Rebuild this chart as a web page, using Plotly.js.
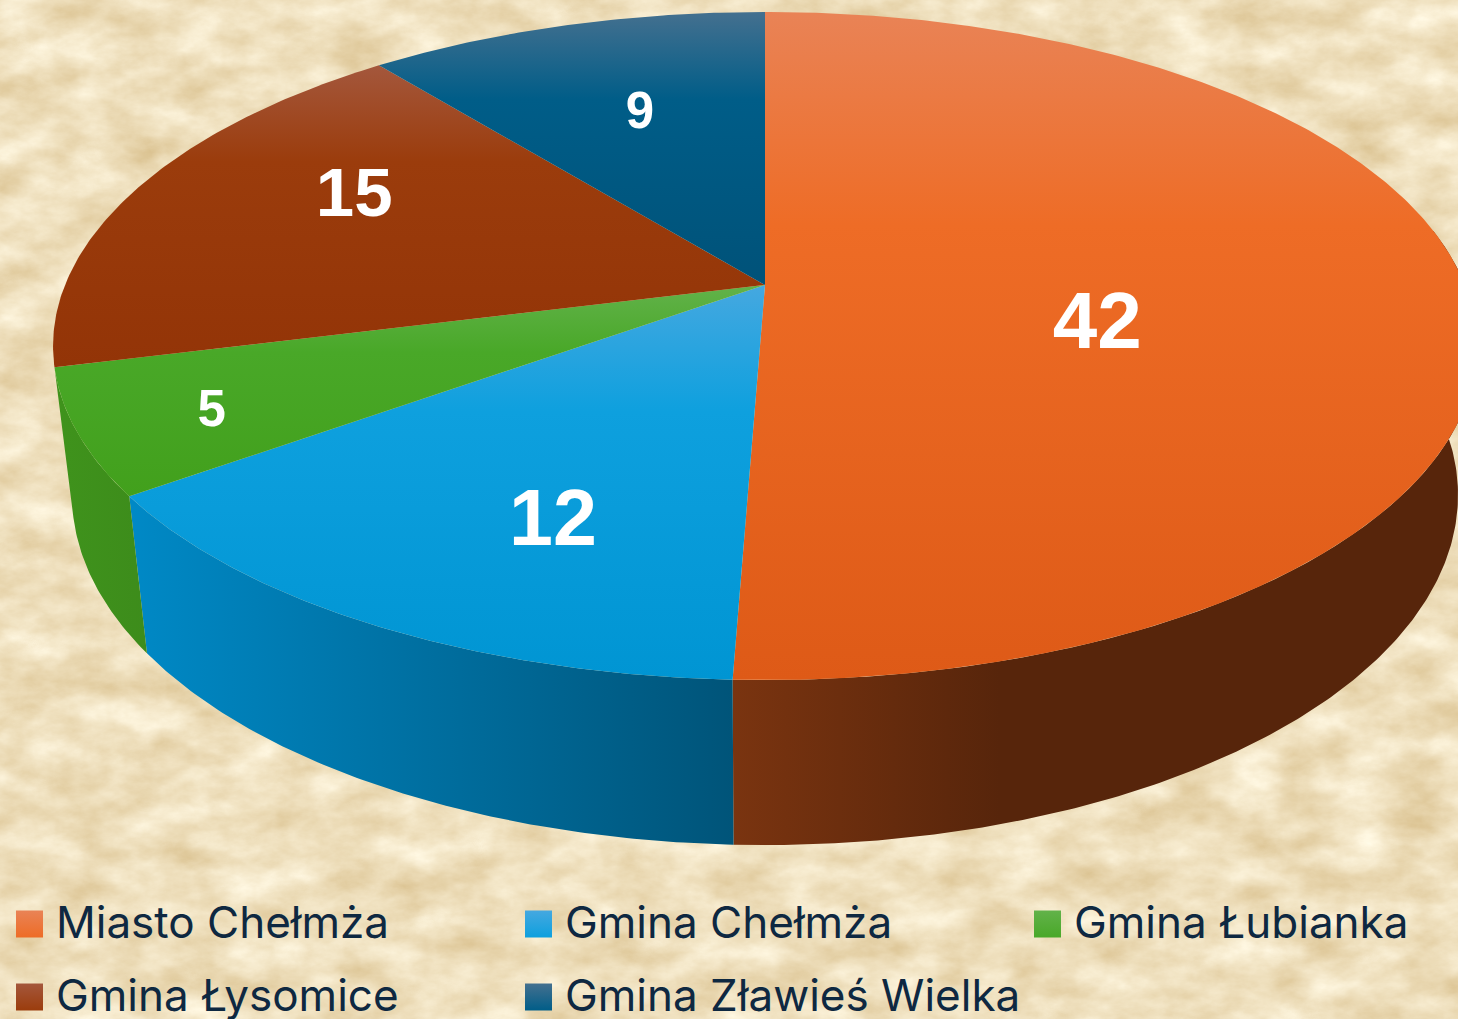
<!DOCTYPE html>
<html lang="pl">
<head>
<meta charset="utf-8">
<title>Miasto i gminy</title>
<script src="https://cdn.plot.ly/plotly-3.0.1.min.js"></script>
<style>
html,body{margin:0;padding:0;width:1458px;height:1019px;overflow:hidden}
#paper{position:absolute;left:0;top:0;width:1458px;height:1019px}
#chart{position:absolute;left:0;top:0;width:1458px;height:1019px}
</style>
</head>
<body>
<svg id="paper" xmlns="http://www.w3.org/2000/svg">
  <filter id="parch" x="0" y="0" width="100%" height="100%" color-interpolation-filters="sRGB">
    <feTurbulence type="fractalNoise" baseFrequency="0.018 0.03" numOctaves="6" seed="11"/>
    <feColorMatrix type="matrix" values="0.17 0 0 0 0.85  0.25 0 0 0 0.75  0.38 0 0 0 0.55  0 0 0 0 1"/>
  </filter>
  <rect width="1458" height="1019" filter="url(#parch)"/>
</svg>
<div id="chart"></div>
<script>
// ---- data ----
const categories = ["Miasto Chełmża", "Gmina Chełmża", "Gmina Łubianka", "Gmina Łysomice", "Gmina Zławieś Wielka"];
const values = [42, 12, 5, 15, 9];

// ---- styles ----
const topLight = ["#e98356", "#45a8e0", "#62b24a", "#a4573c", "#44708f"];
const topBase  = ["#ee6c26", "#0ea0de", "#49a828", "#9b3c0c", "#005d88"];
const topDark  = ["#de5a17", "#0095d3", "#42a01c", "#933407", "#005279"];
const wallNear = ["#7a3410", "#0089c6", "#3f931c", "#7a3410", "#005279"];
const wallFar  = ["#57250b", "#005479", "#3d8c1b", "#57250b", "#005279"];
const labelRadial = [0.474, 0.581, 0.817, 0.6415, 0.589];
const labelShift  = [40, 58, 10, -23, -7];
const labelSize   = [80, 79, 51, 69, 51];
const legendCol = [16, 525, 1034];
const legendRow = [924, 997];
const LEGEND_PER_ROW = 3;
const SWATCH = 27, SWATCH_GAP = 13;

// ---- projection of the disc (perspective) ----
const TOP_DISC    = {cx: 765, y0: 285, a: 700,   b: 322.9, k: 0.1826};
const BOTTOM_DISC = {cx: 765, y0: 432, a: 681.7, b: 338.7, k: 0.18};
const WALL_FROM = 80, WALL_TO = 255.95;
const rad = d => d * Math.PI / 180;
function project(disc, deg, r) {
  const u = r * Math.sin(rad(deg)), v = r * Math.cos(rad(deg));
  const d = 1 + disc.k * v;
  return [disc.cx + disc.a * u / d, disc.y0 - disc.b * v / d];
}
function arc(disc, from, to) {
  const pts = [], n = Math.max(2, Math.ceil(Math.abs(to - from) * 2));
  for (let i = 0; i <= n; i++) pts.push(project(disc, from + (to - from) * i / n, 1));
  return pts;
}

const total = values.reduce((a, b) => a + b, 0);
let acc = 0;
const slices = values.map(v => {
  const s = {from: acc / total * 360, to: (acc + v) / total * 360};
  acc += v;
  s.mid = (s.from + s.to) / 2;
  return s;
});

const traces = [];
const grad = (type, start, stop, stops) => ({type, start, stop, colorscale: stops});

// side walls
slices.forEach((s, i) => {
  const f = Math.max(s.from, WALL_FROM), t = Math.min(s.to, WALL_TO);
  if (t <= f) return;
  const pts = arc(TOP_DISC, f, t).concat(arc(BOTTOM_DISC, t, f));
  const xs = pts.map(p => p[0]);
  const xmin = Math.min(...xs), xmax = Math.max(...xs);
  const isOrange = i === 0;
  traces.push({
    type: "scatter", mode: "lines", hoverinfo: "skip", showlegend: false,
    x: pts.map(p => p[0]).concat([pts[0][0]]), y: pts.map(p => p[1]).concat([pts[0][1]]),
    line: {width: 0}, fill: "toself",
    fillgradient: grad("horizontal", xmin, xmax, isOrange
      ? [[0, wallNear[i]], [0.36, wallFar[i]], [1, wallFar[i]]]
      : [[0, wallNear[i]], [1, wallFar[i]]])
  });
});

// top surfaces
slices.forEach((s, i) => {
  const pts = [project(TOP_DISC, 0, 0)].concat(arc(TOP_DISC, s.from, s.to));
  const ys = pts.map(p => p[1]);
  const ymin = Math.min(...ys), ymax = Math.max(...ys);
  traces.push({
    type: "scatter", mode: "lines", name: categories[i], text: String(values[i]), hoverinfo: "name+text", showlegend: false,
    x: pts.map(p => p[0]).concat([pts[0][0]]), y: ys.concat([ys[0]]),
    line: {width: 0}, fill: "toself",
    fillgradient: grad("vertical", ymin, ymax,
      [[0, topLight[i]], [0.32, topBase[i]], [1, topDark[i]]])
  });
});

// value labels
const lab = slices.map((s, i) => {
  const p = project(TOP_DISC, s.mid, labelRadial[i]);
  return [p[0], p[1] + labelShift[i]];
});
traces.push({
  type: "scatter", mode: "text", hoverinfo: "skip", showlegend: false, cliponaxis: false,
  x: lab.map(p => p[0]), y: lab.map(p => p[1]),
  text: values.map(String), textposition: "middle center",
  textfont: {family: "Liberation Sans, Arial, sans-serif", size: labelSize, color: "#ffffff", weight: 700}
});

// legend
categories.forEach((c, i) => {
  const x = legendCol[i % LEGEND_PER_ROW];
  const y = legendRow[Math.floor(i / LEGEND_PER_ROW)];
  traces.push({
    type: "scatter", mode: "markers", hoverinfo: "skip", showlegend: false,
    x: [x + SWATCH / 2], y: [y],
    marker: {symbol: "square", size: SWATCH, color: topLight[i], line: {width: 0},
             gradient: {type: "vertical", color: topBase[i]}}
  });
  traces.push({
    type: "scatter", mode: "text", hoverinfo: "skip", showlegend: false, cliponaxis: false,
    x: [x + SWATCH + SWATCH_GAP], y: [y + 3],
    text: [c], textposition: "middle right",
    textfont: {family: "Inter, Noto Sans, sans-serif", size: 44, color: "#0e2841"}
  });
});

const axis = range => ({range, visible: false, fixedrange: true, showgrid: false, zeroline: false});
Plotly.newPlot("chart", traces, {
  width: 1458, height: 1019,
  margin: {l: 0, r: 0, t: 0, b: 0, pad: 0},
  paper_bgcolor: "rgba(0,0,0,0)", plot_bgcolor: "rgba(0,0,0,0)",
  xaxis: axis([0, 1458]), yaxis: axis([1019, 0]),
  showlegend: false
}, {displayModeBar: false, staticPlot: true});
</script>
</body>
</html>
